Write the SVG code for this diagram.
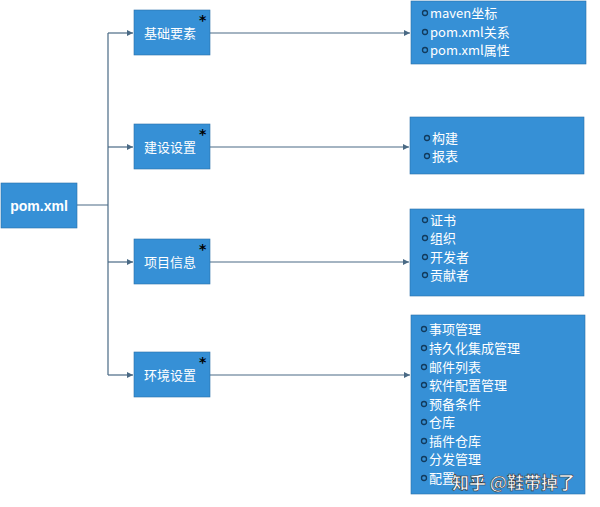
<svg xmlns="http://www.w3.org/2000/svg" width="600" height="507" viewBox="0 0 600 507">
<style>
.b{fill:#3690d6;stroke:#2a6fa8;stroke-width:0.6}
.t{fill:#fff;font-family:"Noto Sans CJK SC","Noto Sans",sans-serif;font-size:13px}
.m{fill:#fff;font-family:"Noto Sans CJK SC",sans-serif;font-size:13px;text-anchor:middle}
.c{fill:none;stroke:#123a5c;stroke-width:1.3}
.l{fill:none;stroke:#4a6a85;stroke-width:1.2}
.s{fill:#000;font-family:"DejaVu Sans",sans-serif;font-size:14px;font-weight:bold}
</style>
<defs><marker id="a" markerWidth="8" markerHeight="8" refX="6" refY="3" orient="auto" markerUnits="userSpaceOnUse"><path d="M0,0L6,3L0,6z" fill="#4a6a85"/></marker></defs>
<rect width="600" height="507" fill="#fff"/>
<g id="connectors">
<path class="l" d="M77,205H108M108,33V375"/>
<path class="l" d="M108,33H133" marker-end="url(#a)"/>
<path class="l" d="M108,147H133" marker-end="url(#a)"/>
<path class="l" d="M108,262H133" marker-end="url(#a)"/>
<path class="l" d="M108,375H133" marker-end="url(#a)"/>
<path class="l" d="M210,33H410" marker-end="url(#a)"/>
<path class="l" d="M210,147H409" marker-end="url(#a)"/>
<path class="l" d="M210,262H409" marker-end="url(#a)"/>
<path class="l" d="M210,375H410" marker-end="url(#a)"/>
</g>
<g id="root"><rect class="b" x="1" y="183" width="76" height="45"/><text x="39" y="211" text-anchor="middle" fill="#fff" font-family="'Liberation Sans',sans-serif" font-size="14" font-weight="bold">pom.xml</text></g>
<g id="n1"><rect class="b" x="134" y="10" width="76" height="45"/><text class="m" x="170" y="38">基础要素</text><text class="s" x="199" y="25">*</text></g>
<g id="n2"><rect class="b" x="134" y="124" width="76" height="45"/><text class="m" x="170" y="152">建设设置</text><text class="s" x="199" y="139">*</text></g>
<g id="n3"><rect class="b" x="134" y="239" width="76" height="45"/><text class="m" x="170" y="267">项目信息</text><text class="s" x="199" y="254">*</text></g>
<g id="n4"><rect class="b" x="134" y="352" width="76" height="45"/><text class="m" x="170" y="380">环境设置</text><text class="s" x="199" y="367">*</text></g>
<g id="d1"><rect class="b" x="411" y="1" width="175" height="63"/>
<circle class="c" cx="425" cy="13" r="2.5"/><text class="t" x="430" y="18">maven坐标</text>
<circle class="c" cx="425" cy="32" r="2.5"/><text class="t" x="430" y="37">pom.xml关系</text>
<circle class="c" cx="425" cy="50" r="2.5"/><text class="t" x="430" y="55">pom.xml属性</text></g>
<g id="d2"><rect class="b" x="410" y="117" width="174" height="57"/>
<circle class="c" cx="427" cy="138" r="2.5"/><text class="t" x="432" y="143">构建</text>
<circle class="c" cx="427" cy="156" r="2.5"/><text class="t" x="432" y="161">报表</text></g>
<g id="d3"><rect class="b" x="410" y="209" width="174" height="87"/>
<circle class="c" cx="425" cy="220" r="2.5"/><text class="t" x="430" y="225">证书</text>
<circle class="c" cx="425" cy="238" r="2.5"/><text class="t" x="430" y="243">组织</text>
<circle class="c" cx="425" cy="257" r="2.5"/><text class="t" x="430" y="262">开发者</text>
<circle class="c" cx="425" cy="275" r="2.5"/><text class="t" x="430" y="280">贡献者</text></g>
<g id="d4"><rect class="b" x="411" y="315" width="174" height="179"/>
<circle class="c" cx="424" cy="329" r="2.5"/><text class="t" x="429" y="334">事项管理</text>
<circle class="c" cx="424" cy="348" r="2.5"/><text class="t" x="429" y="353">持久化集成管理</text>
<circle class="c" cx="424" cy="367" r="2.5"/><text class="t" x="429" y="372">邮件列表</text>
<circle class="c" cx="424" cy="385" r="2.5"/><text class="t" x="429" y="390">软件配置管理</text>
<circle class="c" cx="424" cy="404" r="2.5"/><text class="t" x="429" y="409">预备条件</text>
<circle class="c" cx="424" cy="422" r="2.5"/><text class="t" x="429" y="427">仓库</text>
<circle class="c" cx="424" cy="441" r="2.5"/><text class="t" x="429" y="446">插件仓库</text>
<circle class="c" cx="424" cy="459" r="2.5"/><text class="t" x="429" y="464">分发管理</text>
<circle class="c" cx="424" cy="478" r="2.5"/><text class="t" x="429" y="483">配置</text></g>
<text x="452" y="489" fill="#fff" stroke="#333" stroke-width="0.6" font-family="'Noto Sans CJK SC',sans-serif" font-size="17" font-weight="bold">知乎 @鞋带掉了</text>
</svg>
